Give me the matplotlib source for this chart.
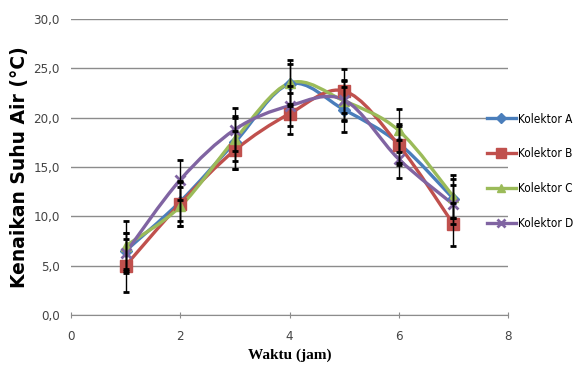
import numpy as np
import matplotlib
matplotlib.use("Agg")
import matplotlib.pyplot as plt
from matplotlib.path import Path
from matplotlib.patches import PathPatch
from matplotlib.lines import Line2D
from matplotlib.ticker import FuncFormatter

# data
waktu = [1, 2, 3, 4, 5, 6, 7]
kolektor_a = [6.5, 11.5, 17.5, 23.4, 20.8, 17.4, 11.8]
kolektor_b = [5.0, 11.3, 16.7, 20.4, 22.7, 17.2, 9.2]
kolektor_c = [7.0, 11.0, 17.8, 23.5, 21.7, 18.7, 12.0]
kolektor_d = [6.3, 13.7, 18.8, 21.2, 21.8, 15.8, 11.2]
err_a = [1.8, 2.0, 2.7, 2.0, 2.3, 2.0, 2.0]
err_b = [2.7, 2.3, 1.9, 2.1, 2.2, 2.0, 2.2]
err_c = [2.5, 2.0, 2.2, 2.3, 2.0, 2.2, 2.2]
err_d = [2.0, 2.0, 2.2, 2.0, 2.0, 1.9, 2.0]
labels = ["Kolektor A", "Kolektor B", "Kolektor C", "Kolektor D"]
colors = ["#4A7EBB", "#C0504D", "#9BBB59", "#8064A2"]
markers = ["D", "s", "^", "x"]
msizes = [6, 8.5, 7.5, 7]


def smooth_path(x, y):
    # excel-like smoothed line: catmull-rom segments as cubic beziers
    pts = np.column_stack([x, y]).astype(float)
    n = len(pts)
    verts = [pts[0]]
    codes = [Path.MOVETO]
    for i in range(n - 1):
        p0 = pts[i - 1] if i > 0 else pts[i]
        p1 = pts[i]
        p2 = pts[i + 1]
        p3 = pts[i + 2] if i + 2 < n else pts[i + 1]
        c1 = p1 + (p2 - p0) / 6.0
        c2 = p2 - (p3 - p1) / 6.0
        verts += [c1, c2, p2]
        codes += [Path.CURVE4] * 3
    return Path(verts, codes)


fig = plt.figure(figsize=(5.77, 3.78), dpi=100)
ax = fig.add_axes([71 / 577, 63 / 378, (508 - 71) / 577, (315 - 19) / 378])

series = [kolektor_a, kolektor_b, kolektor_c, kolektor_d]
errs = [err_a, err_b, err_c, err_d]
for i, (ys, er) in enumerate(zip(series, errs)):
    ax.add_patch(PathPatch(smooth_path(waktu, ys), fill=False, edgecolor=colors[i],
                           lw=2.4, zorder=3 + i * 0.1))
    ax.plot(waktu, ys, ls="none", marker=markers[i], ms=msizes[i], color=colors[i],
            mew=2 if markers[i] == "x" else 1, zorder=3.5 + i * 0.1)
    ax.errorbar(waktu, ys, yerr=er, fmt="none", ecolor="black", elinewidth=1.0,
                capsize=2.5, capthick=2, zorder=5)

ax.set_xlim(0, 8)
ax.set_ylim(0, 30)
ax.set_xticks([0, 2, 4, 6, 8])
ax.set_yticks(np.arange(0, 31, 5))
ax.yaxis.set_major_formatter(FuncFormatter(lambda v, p: f"{v:.1f}".replace(".", ",")))
ax.grid(axis="y", color="#8c8c8c", lw=1)
ax.set_axisbelow(True)
for s in ["top", "right", "left"]:
    ax.spines[s].set_visible(False)
ax.spines["bottom"].set_color("#8c8c8c")
ax.tick_params(axis="y", length=0, pad=8, labelsize=9.5, labelcolor="#444444")
ax.tick_params(axis="x", direction="inout", length=5, color="#8c8c8c", pad=8,
               labelsize=9.5, labelcolor="#444444")
for t in ax.get_xticklabels() + ax.get_yticklabels():
    t.set_family("DejaVu Sans")
    t.set_fontstretch("condensed")

ax.set_xlabel("Waktu (jam)", family="Liberation Serif", fontweight="bold",
              fontsize=11, labelpad=4)
ax.set_ylabel("Kenaikan Suhu Air (°C)", family="DejaVu Sans", fontweight="bold",
              fontsize=13.5, labelpad=3)

handles = [Line2D([], [], color=c, marker=m, ms=ms * 0.8, lw=2.4,
                  mew=2 if m == "x" else 1) for c, m, ms in zip(colors, markers, msizes)]
leg = fig.legend(handles, labels, loc="upper left", bbox_to_anchor=(476 / 577, 1 - 102 / 378),
                 frameon=False, handlelength=2.5, handletextpad=0.2, labelspacing=1.85,
                 prop={"family": "DejaVu Sans", "stretch": "condensed", "size": 8.5})

fig.savefig("out.png", dpi=100)
